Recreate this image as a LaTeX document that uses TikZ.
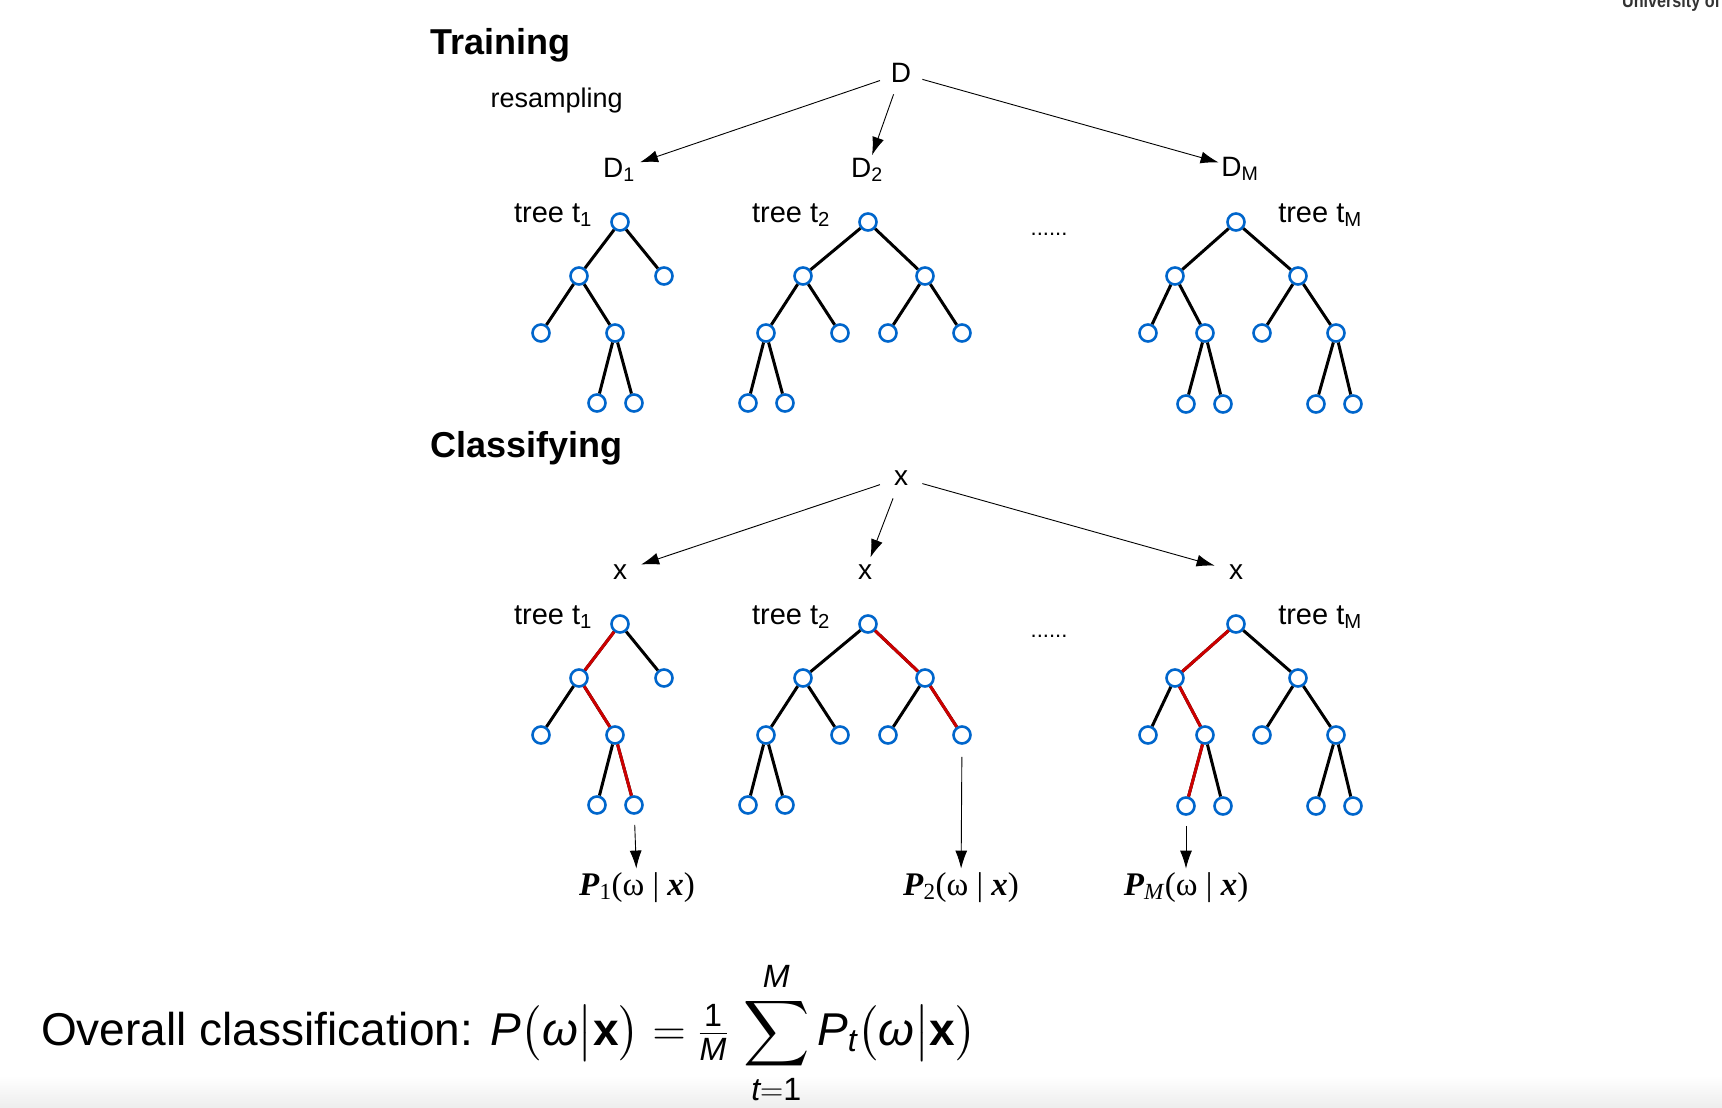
\RequirePackage{fix-cm}
\documentclass[tikz,border=0pt]{standalone}
\usepackage{amsmath}
\DeclareFontShape{OMX}{cmex}{m}{n}{<-7.5>cmex7<7.5-8.5>cmex8<8.5-9.5>cmex9<9.5->cmex10}{}
\usepackage{fontspec}
\setmainfont{Liberation Sans}
\newfontfamily\serifP{Liberation Serif}
\usetikzlibrary{arrows.meta}
\definecolor{vtxblue}{RGB}{0,102,204}
\definecolor{pathred}{RGB}{204,0,0}

\begin{document}
\begin{tikzpicture}[x=1pt,y=-1pt,
    vtx/.style={circle,draw=vtxblue,fill=white,line width=2.6pt,
        inner sep=0pt,minimum size=17pt},
    branch/.style={draw,line width=3pt},
    hot/.style={draw=pathred,line width=3pt},
    sample/.style={circle,inner sep=0pt,minimum size=44pt,anchor=base,
        font=\fontsize{28}{32}\selectfont},
    treelabel/.style={anchor=base,font=\fontsize{29}{33}\selectfont},
    heading/.style={anchor=base west,font=\fontsize{36}{40}\selectfont\bfseries},
    flow/.style={-{Latex[length=18pt,width=12pt]},line width=0.9pt},
    prob/.style={anchor=base,font=\fontsize{33}{36}\selectfont\serifP}
]
    \fill[white] (0,0) rectangle (1722,1108);
    \useasboundingbox (0,0) rectangle (1722,1108);
    \shade[top color=white,bottom color=black!7] (0,1076) rectangle (1722,1108);
    \begin{scope}
        \clip (0,0) rectangle (1722,1108);
        \node[anchor=base west,inner sep=0pt,text=black!80,
            font=\fontsize{19}{20}\selectfont\bfseries] (univ) at (1622,8)
            {\scalebox{0.85}[1]{University of}};
    \end{scope}

    % the two rows of trees
    \foreach \row/\dy in {t/0,c/402}{
    \begin{scope}[yshift=-\dy pt]
        \node[treelabel] (lab1\row) at (553,222) {tree t\textsubscript{1}};
        \node[treelabel] (lab2\row) at (791,222) {tree t\textsubscript{2}};
        \node[treelabel] (lab3\row) at (1320,222) {tree t\textsubscript{M}};
        \node[anchor=base,font=\fontsize{22}{24}\selectfont] (dots\row) at (1049,235) {......};
        % tree t_1
        \node[vtx] (\row1r) at (620,222) {};
        \node[vtx] (\row1a) at (579,276) {};
        \node[vtx] (\row1b) at (664,276) {};
        \node[vtx] (\row1c) at (541,333) {};
        \node[vtx] (\row1d) at (615,333) {};
        \node[vtx] (\row1e) at (597,403) {};
        \node[vtx] (\row1f) at (634,403) {};
        \draw[branch] (\row1r)--(\row1a) (\row1r)--(\row1b) (\row1a)--(\row1c)
            (\row1a)--(\row1d) (\row1d)--(\row1e) (\row1d)--(\row1f);
        % tree t_2
        \node[vtx] (\row2r) at (868,222) {};
        \node[vtx] (\row2a) at (803,276) {};
        \node[vtx] (\row2b) at (925,276) {};
        \node[vtx] (\row2c) at (766,333) {};
        \node[vtx] (\row2d) at (840,333) {};
        \node[vtx] (\row2e) at (888,333) {};
        \node[vtx] (\row2f) at (962,333) {};
        \node[vtx] (\row2g) at (748,403) {};
        \node[vtx] (\row2h) at (785,403) {};
        \draw[branch] (\row2r)--(\row2a) (\row2r)--(\row2b) (\row2a)--(\row2c)
            (\row2a)--(\row2d) (\row2b)--(\row2e) (\row2b)--(\row2f)
            (\row2c)--(\row2g) (\row2c)--(\row2h);
        % tree t_M
        \node[vtx] (\row3r) at (1236,222) {};
        \node[vtx] (\row3a) at (1175,276) {};
        \node[vtx] (\row3b) at (1298,276) {};
        \node[vtx] (\row3c) at (1148,333) {};
        \node[vtx] (\row3d) at (1205,333) {};
        \node[vtx] (\row3e) at (1262,333) {};
        \node[vtx] (\row3f) at (1336,333) {};
        \node[vtx] (\row3g) at (1186,404) {};
        \node[vtx] (\row3h) at (1223,404) {};
        \node[vtx] (\row3i) at (1316,404) {};
        \node[vtx] (\row3j) at (1353,404) {};
        \draw[branch] (\row3r)--(\row3a) (\row3r)--(\row3b) (\row3a)--(\row3c)
            (\row3a)--(\row3d) (\row3b)--(\row3e) (\row3b)--(\row3f)
            (\row3d)--(\row3g) (\row3d)--(\row3h) (\row3f)--(\row3i) (\row3f)--(\row3j);
    \end{scope}
    }

    % training
    \node[heading] (training) at (427,55) {Training};
    \node[anchor=base west,font=\fontsize{27}{30}\selectfont] (resampling) at (487,107) {resampling};
    \node[sample] (D) at (901,83) {D};
    \node[sample] (D1) at (619,177) {D\textsubscript{1}};
    \node[sample] (D2) at (867,177) {D\textsubscript{2}};
    \node[sample] (DM) at (1240,176) {D\textsubscript{M}};
    \draw[flow] (D)--(D1);
    \draw[flow,shorten >=-7pt] (D)--(D2);
    \draw[flow] (D)--(DM);

    % classifying
    \node[heading] (classifying) at (427,457) {Classifying};
    \node[sample] (x) at (901,485) {x};
    \node[sample] (x1) at (620,579) {x};
    \node[sample] (x2) at (865,579) {x};
    \node[sample] (xM) at (1236,579) {x};
    \draw[flow] (x)--(x1);
    \draw[flow,shorten >=-7pt] (x)--(x2);
    \draw[flow] (x)--(xM);
    \draw[hot] (c1r)--(c1a) (c1a)--(c1d) (c1d)--(c1f);
    \draw[hot] (c2r)--(c2b) (c2b)--(c2f);
    \draw[hot] (c3r)--(c3a) (c3a)--(c3d) (c3d)--(c3g);

    \node[prob] (p1) at (637,895)
        {\textbf{\textit{P}}\textsubscript{1}(ω\hspace{0.25em}|\hspace{0.25em}\textbf{\textit{x}})};
    \node[prob] (p2) at (961,895)
        {\textbf{\textit{P}}\textsubscript{2}(ω\hspace{0.25em}|\hspace{0.25em}\textbf{\textit{x}})};
    \node[prob] (pM) at (1186,895)
        {\textbf{\textit{P}}\textsubscript{\textit{M}}(ω\hspace{0.25em}|\hspace{0.25em}\textbf{\textit{x}})};
    \draw[flow,shorten <=10pt] (c1f)--(p1);
    \draw[flow,shorten <=12pt] (c2f)--(p2);
    \draw[flow,shorten <=10pt] (c3g)--(pM);

    \node[anchor=base west,inner sep=0pt,font=\fontsize{46}{64}\selectfont] (overall) at (41,1045)
        {Overall classification: $\displaystyle \textit{P}\bigl(\textit{ω}\big|\textbf{x}\bigr)
        = {\genfrac{}{}{}{1}{\text{1}}{\textit{M}}}\, \displaystyle\sum_{\textit{t}=\text{1}}^{\textit{M}}
        \textit{P}_{\textit{t}}\bigl(\textit{ω}\big|\textbf{x}\bigr)$};
\end{tikzpicture}
\end{document}
